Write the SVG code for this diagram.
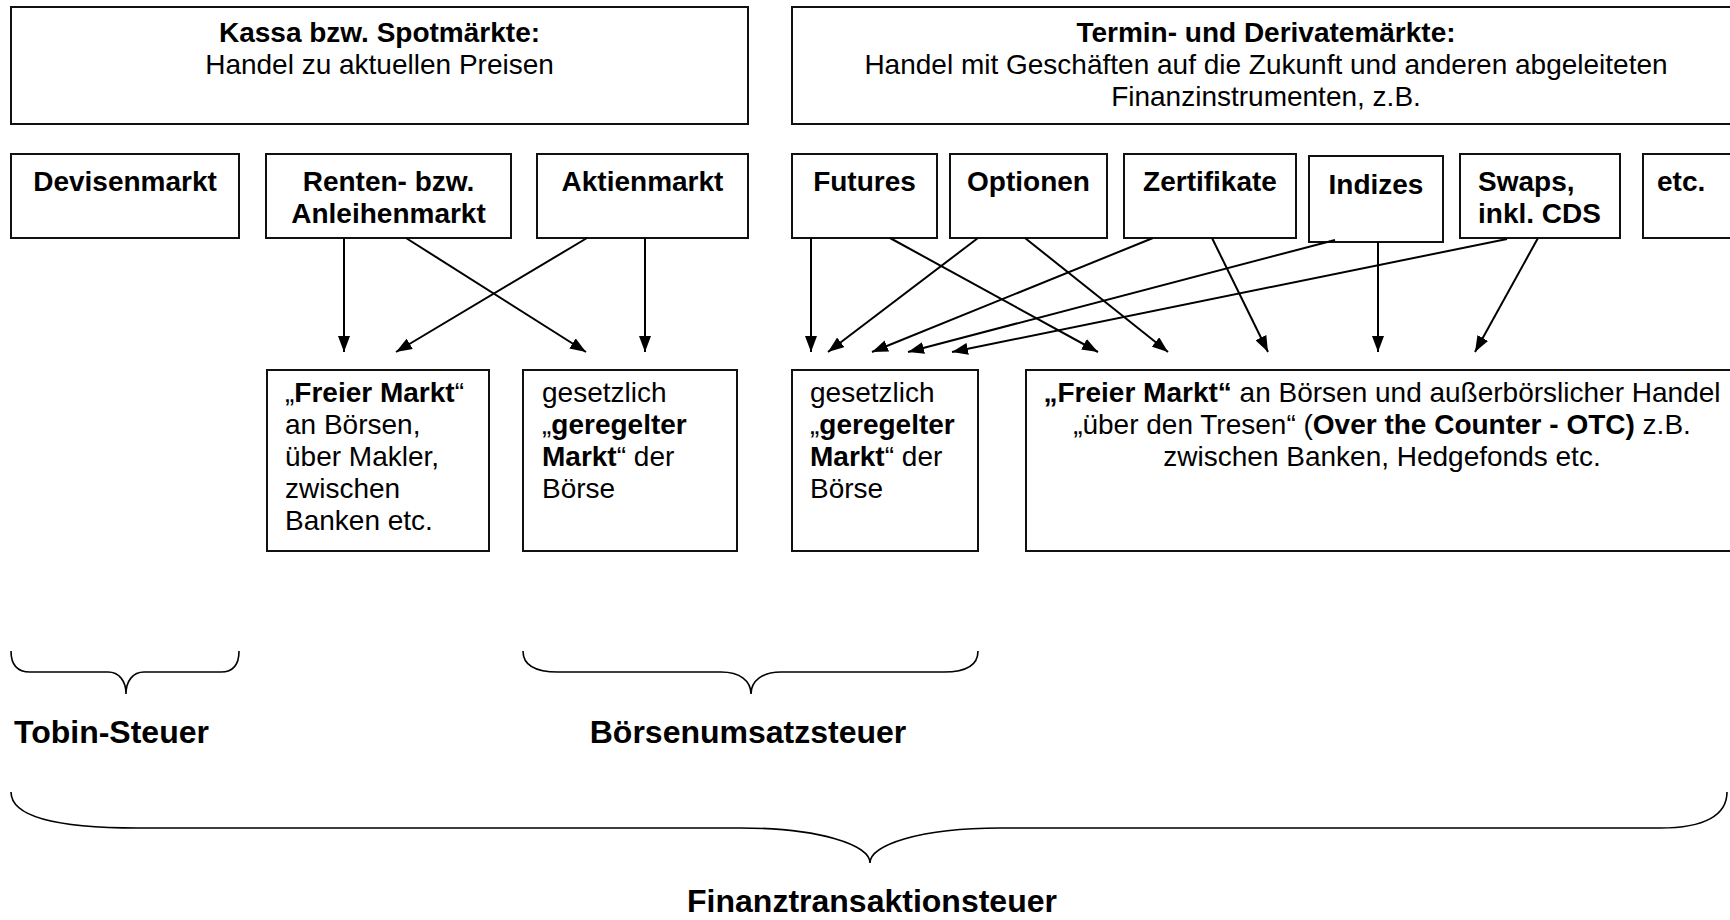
<svg xmlns="http://www.w3.org/2000/svg" width="1730" height="920" viewBox="0 0 1730 920">
<style>
.box{fill:#fff;stroke:#111;stroke-width:2}
text{font-family:"Liberation Sans",Arial,Helvetica,sans-serif;font-size:28px;fill:#000}
.b{font-weight:bold}
.c{text-anchor:middle}
.lbl{font-weight:bold;font-size:32px}
.arr{stroke:#000;stroke-width:2;fill:none;marker-end:url(#ah)}
.brace{stroke:#000;stroke-width:1.6;fill:none}
</style>
<defs>
<marker id="ah" viewBox="0 0 16 12" refX="16" refY="6" markerWidth="16" markerHeight="12" markerUnits="userSpaceOnUse" orient="auto">
<path d="M0,0 L16,6 L0,12 z" fill="#000"/>
</marker>
</defs>
<rect width="1730" height="920" fill="#fff"/>

<g id="kassa">
<rect class="box" x="11" y="7" width="737" height="117"/>
<text class="c b" x="379.5" y="42">Kassa bzw. Spotmärkte:</text>
<text class="c" x="379.5" y="74">Handel zu aktuellen Preisen</text>
</g>
<g id="termin">
<rect class="box" x="792" y="7" width="950" height="117"/>
<text class="c b" x="1266" y="42">Termin- und Derivatemärkte:</text>
<text class="c" x="1266" y="74">Handel mit Geschäften auf die Zukunft und anderen abgeleiteten</text>
<text class="c" x="1266" y="106">Finanzinstrumenten, z.B.</text>
</g>

<g id="devisen">
<rect class="box" x="11" y="154" width="228" height="84"/>
<text class="c b" x="125" y="191">Devisenmarkt</text>
</g>
<g id="renten">
<rect class="box" x="266" y="154" width="245" height="84"/>
<text class="c b" x="388.5" y="191">Renten- bzw.</text>
<text class="c b" x="388.5" y="223">Anleihenmarkt</text>
</g>
<g id="aktien">
<rect class="box" x="537" y="154" width="211" height="84"/>
<text class="c b" x="642.5" y="191">Aktienmarkt</text>
</g>
<g id="futures">
<rect class="box" x="792" y="154" width="145" height="84"/>
<text class="c b" x="864.5" y="191">Futures</text>
</g>
<g id="optionen">
<rect class="box" x="950" y="154" width="157" height="84"/>
<text class="c b" x="1028.5" y="191">Optionen</text>
</g>
<g id="zertifikate">
<rect class="box" x="1124" y="154" width="172" height="84"/>
<text class="c b" x="1210" y="191">Zertifikate</text>
</g>
<g id="indizes">
<rect class="box" x="1309" y="156" width="134" height="86"/>
<text class="c b" x="1376" y="194">Indizes</text>
</g>
<g id="swaps">
<rect class="box" x="1460" y="154" width="160" height="84"/>
<text class="b" x="1478" y="191">Swaps,</text>
<text class="b" x="1478" y="223">inkl. CDS</text>
</g>
<g id="etc">
<rect class="box" x="1643" y="154" width="100" height="84"/>
<text class="b" x="1657" y="191">etc.</text>
</g>

<g id="freier-kassa">
<rect class="box" x="267" y="370" width="222" height="181"/>
<text x="285" y="402">„<tspan class="b">Freier Markt</tspan>“</text>
<text x="285" y="434">an Börsen,</text>
<text x="285" y="466">über Makler,</text>
<text x="285" y="498">zwischen</text>
<text x="285" y="530">Banken etc.</text>
</g>
<g id="geregelt-kassa">
<rect class="box" x="523" y="370" width="214" height="181"/>
<text x="542" y="402">gesetzlich</text>
<text x="542" y="434">„<tspan class="b">geregelter</tspan></text>
<text x="542" y="466"><tspan class="b">Markt</tspan>“ der</text>
<text x="542" y="498">Börse</text>
</g>
<g id="geregelt-termin">
<rect class="box" x="792" y="370" width="186" height="181"/>
<text x="810" y="402">gesetzlich</text>
<text x="810" y="434">„<tspan class="b">geregelter</tspan></text>
<text x="810" y="466"><tspan class="b">Markt</tspan>“ der</text>
<text x="810" y="498">Börse</text>
</g>
<g id="freier-termin">
<rect class="box" x="1026" y="370" width="720" height="181"/>
<text class="c" x="1382" y="402"><tspan class="b">„Freier Markt“</tspan> an Börsen und außerbörslicher Handel</text>
<text class="c" x="1382" y="434">„über den Tresen“ (<tspan class="b">Over the Counter - OTC)</tspan> z.B.</text>
<text class="c" x="1382" y="466">zwischen Banken, Hedgefonds etc.</text>
</g>

<g id="connectors">
<line class="arr" x1="344" y1="238" x2="344" y2="352"/>
<line class="arr" x1="406" y1="238" x2="586" y2="352"/>
<line class="arr" x1="587" y1="238" x2="396" y2="352"/>
<line class="arr" x1="645" y1="238" x2="645" y2="352"/>
<line class="arr" x1="811" y1="238" x2="811" y2="352"/>
<line class="arr" x1="890" y1="238" x2="1098" y2="352"/>
<line class="arr" x1="978" y1="238" x2="828" y2="352"/>
<line class="arr" x1="1025" y1="238" x2="1168" y2="352"/>
<line class="arr" x1="1153" y1="238" x2="872" y2="352"/>
<line class="arr" x1="1212" y1="238" x2="1268" y2="352"/>
<line class="arr" x1="1335" y1="240" x2="908" y2="352"/>
<line class="arr" x1="1507" y1="239" x2="952" y2="352"/>
<line class="arr" x1="1378" y1="242" x2="1378" y2="352"/>
<line class="arr" x1="1538" y1="238" x2="1475" y2="352"/>
</g>

<g id="tobin">
<path class="brace" d="M11,651 C11,665 17,672 30,672 L108,672 C119,672 126,681 126,694 C126,681 133,672 144,672 L221,672 C233,672 239,665 239,651"/>
<text class="lbl" x="14" y="743">Tobin-Steuer</text>
</g>
<g id="boersenumsatz">
<path class="brace" d="M523,651 C523,665 535,672 558,672 L721,672 C740,672 751,681 751,694 C751,681 762,672 781,672 L944,672 C966,672 978,665 978,651"/>
<text class="lbl c" x="748" y="743">Börsenumsatzsteuer</text>
</g>
<g id="finanztransaktion">
<path class="brace" d="M11,792 C11,815 50,828 138,828 L740,828 C820,828 870,845 870,863 C870,845 920,828 1000,828 L1660,828 C1705,828 1727,815 1727,792"/>
<text class="lbl c" x="872" y="912">Finanztransaktionsteuer</text>
</g>
</svg>
